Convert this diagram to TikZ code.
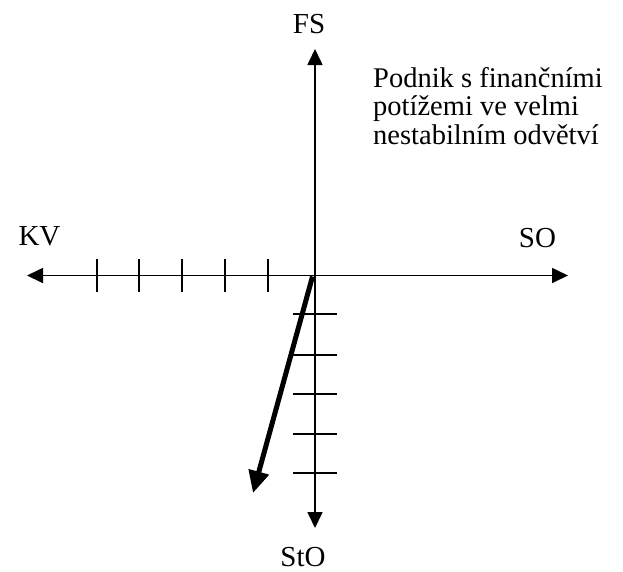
\documentclass[tikz,border=0pt]{standalone}
\usepackage{fontspec}
\setmainfont{Liberation Serif}
\usetikzlibrary{arrows.meta,calc}
\tikzset{
  axis/.style={line width=1.7pt,{Triangle[length=16pt,width=15pt]}-{Triangle[length=16pt,width=15pt]}},
  axisone/.style={line width=1.7pt,-{Triangle[length=16pt,width=15pt]}},
  tick/.style={line width=1.7pt},
  lbl/.style={font=\fontsize{29}{29}\selectfont,inner sep=0pt,anchor=base},
  trend/.style={line width=5pt,-{Triangle[length=22pt,width=20pt]}}
}
\begin{document}
\begin{tikzpicture}[x=1pt,y=-1pt]
\useasboundingbox (0,0) rectangle (623,571);
\coordinate (O) at (315,275.5);
\coordinate (L) at (27,275.5);
\coordinate (R) at (568,275.5);
\coordinate (T) at (315,49);
\coordinate (B) at (315,528);
\coordinate (E) at (253,493);
\draw[axis] (L) -- (R);
\draw[axisone] (O) -- (T);
\draw[axisone] (O) -- (B);
\foreach \x in {97,139,182,225,268} \draw[tick] (\x,259) -- (\x,292);
\foreach \y in {314,355,394,434,473} \draw[tick] (293,\y) -- (337,\y);
\draw[trend] ($(O)+(-2.5,1)$) -- (E);
\node[lbl] (fs) at (309,33) {FS};
\node[lbl] (kv) at (39.5,245) {KV};
\node[lbl] (so) at (537.5,247) {SO};
\node[lbl] (sto) at (303,566) {StO};
\node[font=\fontsize{28.5}{28.5}\selectfont,inner sep=0pt,align=left,anchor=base west] (txt) at (373,144) {Podnik s finančními\\potížemi ve velmi\\nestabilním odvětví};
\end{tikzpicture}
\end{document}
